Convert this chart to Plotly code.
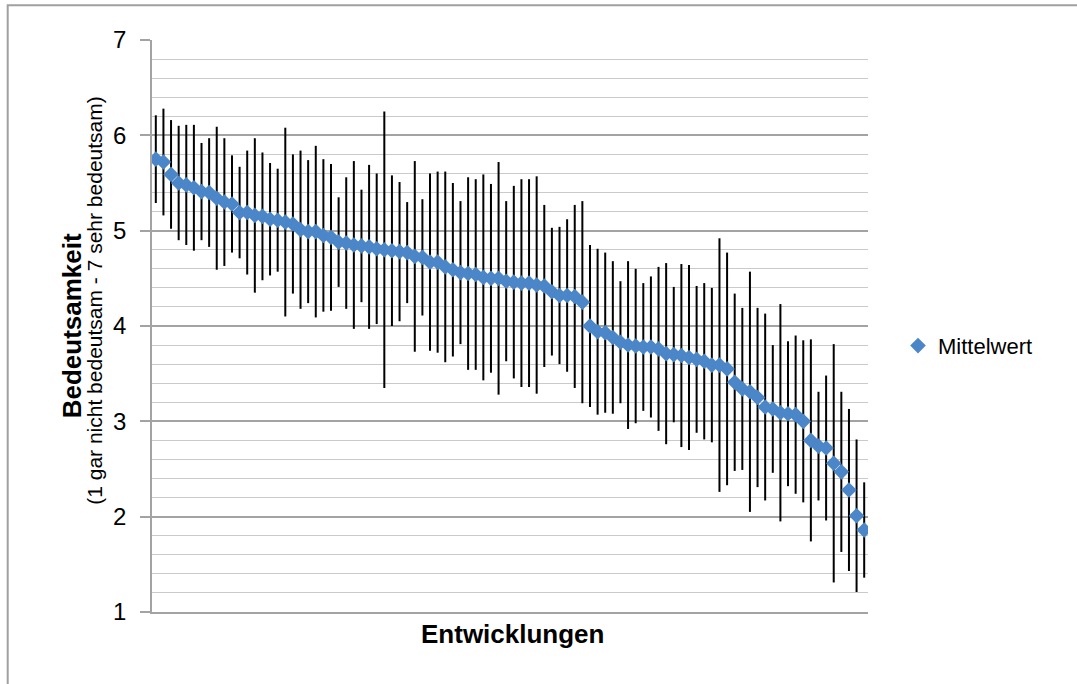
import plotly.graph_objects as go

# Entwicklungen (sorted by mean, descending)
categories = list(range(1, 95))
mittelwert = [
    5.75, 5.72, 5.59, 5.50, 5.48, 5.45, 5.41, 5.40, 5.34, 5.30,
    5.28, 5.19, 5.19, 5.16, 5.15, 5.12, 5.11, 5.09, 5.07, 5.01,
    4.99, 4.99, 4.95, 4.93, 4.88, 4.87, 4.85, 4.84, 4.83, 4.81,
    4.80, 4.79, 4.78, 4.77, 4.73, 4.72, 4.67, 4.67, 4.62, 4.59,
    4.56, 4.55, 4.54, 4.51, 4.50, 4.50, 4.47, 4.46, 4.45, 4.45,
    4.43, 4.42, 4.36, 4.32, 4.32, 4.31, 4.25, 4.00, 3.94, 3.93,
    3.88, 3.83, 3.80, 3.79, 3.78, 3.78, 3.76, 3.71, 3.70, 3.69,
    3.67, 3.65, 3.63, 3.59, 3.59, 3.55, 3.41, 3.34, 3.31, 3.25,
    3.15, 3.13, 3.09, 3.08, 3.07, 3.00, 2.80, 2.74, 2.72, 2.56,
    2.47, 2.28, 2.01, 1.86,
]
standardabweichung = [
    0.46, 0.56, 0.57, 0.60, 0.63, 0.66, 0.51, 0.57, 0.75, 0.67,
    0.51, 0.48, 0.65, 0.81, 0.67, 0.59, 0.54, 0.99, 0.73, 0.83,
    0.75, 0.90, 0.80, 0.77, 0.47, 0.69, 0.88, 0.59, 0.86, 0.79,
    1.45, 0.79, 0.73, 0.53, 1.00, 0.61, 0.93, 0.95, 1.00, 0.91,
    0.75, 1.01, 1.00, 1.08, 0.99, 1.22, 0.84, 1.01, 1.09, 1.09,
    1.14, 0.85, 0.67, 0.72, 0.80, 0.96, 1.06, 0.85, 0.87, 0.84,
    0.80, 0.64, 0.88, 0.81, 0.67, 0.74, 0.86, 0.95, 0.71, 0.96,
    0.97, 0.77, 0.82, 0.81, 1.33, 1.22, 0.93, 0.85, 1.26, 0.94,
    0.98, 0.67, 1.14, 0.76, 0.83, 0.85, 1.06, 0.57, 0.76, 1.25,
    0.84, 0.85, 0.80, 0.50,
]
y_ticks = [1, 2, 3, 4, 5, 6, 7]

W, H = 1077, 684
L, R, T, B = 152, 868, 40.4, 612
pw, ph = R - L, B - T

def px(x):
    return (x - L) / pw

def py(y):
    return (B - y) / ph

fig = go.Figure()
fig.add_trace(go.Scatter(
    x=categories, y=mittelwert, mode="markers", name="Mittelwert",
    marker=dict(symbol="diamond", size=12, color="#4a86c8",
                line=dict(width=0)),
    error_y=dict(type="data", array=standardabweichung, visible=True,
                 color="#000000", thickness=2, width=0),
))

grid_major = "#a3a3a3"
grid_minor = "#cacaca"
FONT = "Liberation Sans, Arial, sans-serif"

fig.update_layout(
    width=W, height=H,
    margin=dict(l=L, r=W - R, t=T, b=H - B, pad=0),
    paper_bgcolor="white", plot_bgcolor="white",
    font=dict(family=FONT, color="#000000"),
    showlegend=True,
    legend=dict(x=px(898), y=py(346), xanchor="left", yanchor="middle",
                font=dict(size=22, family=FONT),
                bgcolor="rgba(0,0,0,0)", borderwidth=0),
    xaxis=dict(range=[0.5, 94.5], showticklabels=False, ticks="",
               showgrid=False, zeroline=False, showline=True,
               linecolor=grid_major, linewidth=1.5),
    yaxis=dict(range=[1, 7], tickvals=y_ticks, ticktext=[str(v) for v in y_ticks],
               tickfont=dict(size=24), ticks="outside", ticklen=10,
               tickcolor=grid_major, tickwidth=1.5, ticklabelstandoff=9,
               showgrid=True, gridcolor=grid_major, gridwidth=1.5,
               zeroline=False, showline=True, linecolor=grid_major, linewidth=1.5,
               minor=dict(dtick=0.2, showgrid=True, gridcolor=grid_minor,
                          gridwidth=1.3, ticks="")),
)

fig.add_shape(type="rect", xref="paper", yref="paper",
              x0=px(7.7), x1=px(1100), y0=py(700), y1=py(5.7),
              line=dict(color="#a0a0a0", width=2), fillcolor="rgba(0,0,0,0)",
              layer="below")

fig.add_annotation(xref="paper", yref="paper", x=px(71.5), y=py(326),
                   text="<b>Bedeutsamkeit</b>", textangle=-90, showarrow=False,
                   xanchor="center", yanchor="middle",
                   font=dict(size=26, family=FONT))
fig.add_annotation(xref="paper", yref="paper", x=px(95), y=py(301),
                   text="(1 gar nicht bedeutsam - 7 sehr bedeutsam)", textangle=-90,
                   showarrow=False, xanchor="center", yanchor="middle",
                   font=dict(size=21, family=FONT))
fig.add_annotation(xref="paper", yref="paper", x=px(512.5), y=py(634),
                   text="<b>Entwicklungen</b>", showarrow=False,
                   xanchor="center", yanchor="middle",
                   font=dict(size=26, family=FONT))

fig.write_html("out.html")
